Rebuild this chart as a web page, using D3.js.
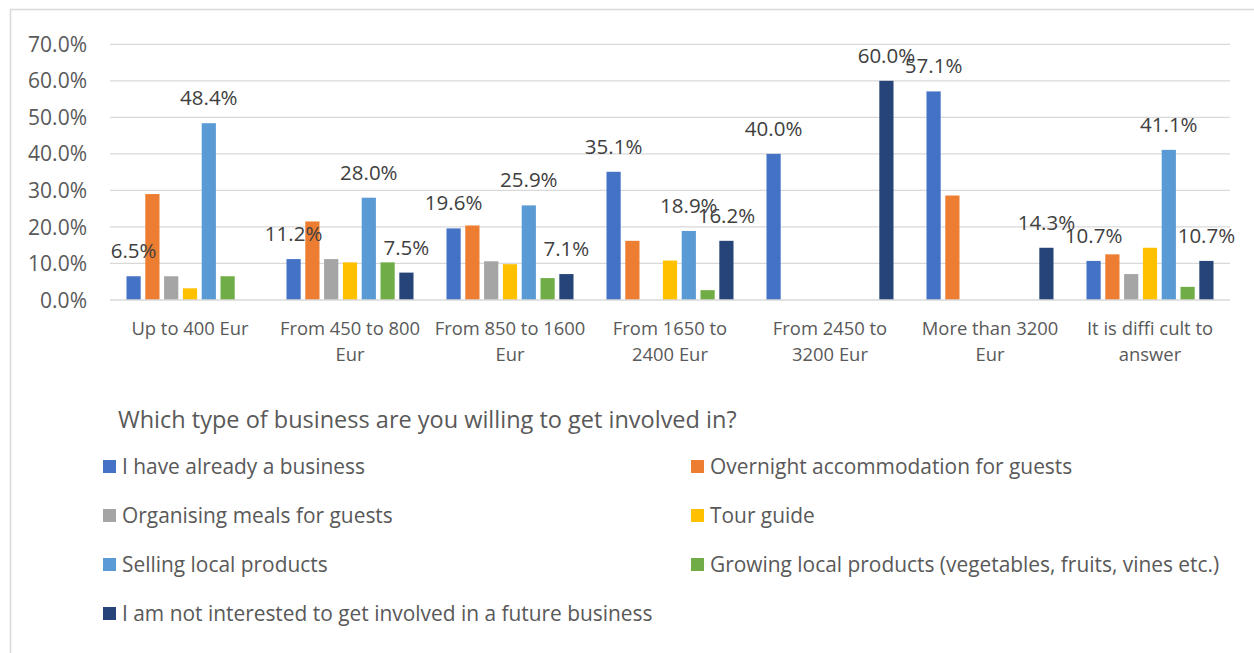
<!DOCTYPE html>
<html>
<head>
<meta charset="utf-8">
<script src="https://cdn.jsdelivr.net/npm/d3@7"></script>
<style>
  html, body { margin: 0; padding: 0; background: #fff; }
  svg { display: block; font-family: "Open Sans", Lato, sans-serif; }
</style>
</head>
<body>
<svg id="chart" width="1254" height="653"></svg>
<script>
// Income groups (line breaks follow the axis labels)
const categories = [
  "Up to 400 Eur",
  "From 450 to 800\nEur",
  "From 850 to 1600\nEur",
  "From 1650 to\n2400 Eur",
  "From 2450 to\n3200 Eur",
  "More than 3200\nEur",
  "It is diffi cult to\nanswer"
];

const seriesNames = [
  "I have already a business",
  "Overnight accommodation for guests",
  "Organising meals for guests",
  "Tour guide",
  "Selling local products",
  "Growing local products (vegetables, fruits, vines etc.)",
  "I am not interested to get involved in a future business"
];

const seriesColors = ["#4472C4", "#ED7D31", "#A5A5A5", "#FFC000", "#5B9BD5", "#70AD47", "#264478"];

// Shares in percent, one array per business type, ordered like categories
const alreadyBusiness = [6.5, 11.2, 19.6, 35.1, 40.0, 57.1, 10.7];
const overnight       = [29.0, 21.5, 20.4, 16.2, 0, 28.6, 12.5];
const meals           = [6.5, 11.2, 10.6, 0, 0, 0, 7.1];
const tourGuide       = [3.2, 10.3, 9.8, 10.8, 0, 0, 14.3];
const sellingLocal    = [48.4, 28.0, 25.9, 18.9, 0, 0, 41.1];
const growingLocal    = [6.5, 10.3, 6.0, 2.7, 0, 0, 3.6];
const notInterested   = [0, 7.5, 7.1, 16.2, 60.0, 14.3, 10.7];

const seriesValues = [alreadyBusiness, overnight, meals, tourGuide, sellingLocal, growingLocal, notInterested];

// Series that carry value labels
const labelledSeries = [0, 4, 6];

const yTicks = [0, 10, 20, 30, 40, 50, 60, 70];

const legendTitle = "Which type of business are you willing to get involved in?";

const svg = d3.select("#chart");

// outer chart frame
svg.append("path")
  .attr("d", "M10.5,653 V9.5 H1254")
  .attr("fill", "none")
  .attr("stroke", "#d9d9d9")
  .attr("stroke-width", 1.5);

const plot = { left: 110, right: 1230, top: 44.3, bottom: 300 };

const y = d3.scaleLinear().domain([0, 70]).range([plot.bottom, plot.top]);

const x0 = d3.scaleBand().domain(d3.range(categories.length)).range([plot.left, plot.right]).padding(0);
const x1 = d3.scaleBand().domain(d3.range(seriesNames.length)).range([0, x0.bandwidth()])
  .paddingInner(0.245).paddingOuter(0.877);

// horizontal gridlines
svg.append("g").selectAll("line")
  .data(yTicks.filter(t => t > 0))
  .join("line")
  .attr("x1", plot.left).attr("x2", plot.right)
  .attr("y1", d => y(d)).attr("y2", d => y(d))
  .attr("stroke", "#d9d9d9").attr("stroke-width", 1.3);

// y tick labels
svg.append("g").selectAll("text")
  .data(yTicks)
  .join("text")
  .attr("x", 87)
  .attr("y", d => y(d))
  .attr("dy", "0.36em")
  .attr("text-anchor", "end")
  .attr("font-size", 21)
  .attr("fill", "#595959")
  .text(d => d.toFixed(1) + "%");

// bars
const groups = svg.append("g").selectAll("g")
  .data(categories.map((c, i) => i))
  .join("g")
  .attr("transform", i => `translate(${x0(i)},0)`);

groups.selectAll("rect")
  .data(i => seriesValues.map((vals, s) => ({ s, v: vals[i] })))
  .join("rect")
  .attr("x", d => x1(d.s))
  .attr("width", x1.bandwidth())
  .attr("y", d => y(d.v))
  .attr("height", d => y(0) - y(d.v))
  .attr("fill", d => seriesColors[d.s]);

// category axis line
svg.append("line")
  .attr("x1", plot.left).attr("x2", plot.right)
  .attr("y1", y(0)).attr("y2", y(0))
  .attr("stroke", "#d9d9d9").attr("stroke-width", 1.5);

// value labels
groups.selectAll("text.value")
  .data(i => labelledSeries.map(s => ({ s, v: seriesValues[s][i] })).filter(d => d.v > 0))
  .join("text")
  .attr("class", "value")
  .attr("x", d => x1(d.s) + x1.bandwidth() / 2)
  .attr("y", d => y(d.v) - 18)
  .attr("text-anchor", "middle")
  .attr("font-size", 20.5)
  .attr("fill", "#404040")
  .text(d => d.v.toFixed(1) + "%");

// category labels
const catLabels = svg.append("g").selectAll("text")
  .data(categories)
  .join("text")
  .attr("x", (d, i) => x0(i) + x0.bandwidth() / 2)
  .attr("y", 335)
  .attr("text-anchor", "middle")
  .attr("font-size", 18.4)
  .attr("fill", "#595959");

catLabels.selectAll("tspan")
  .data(d => d.split("\n"))
  .join("tspan")
  .attr("x", function () { return this.parentNode.getAttribute("x"); })
  .attr("dy", (d, j) => j === 0 ? 0 : 26)
  .text(d => d);

// legend title
svg.append("text")
  .attr("x", 118)
  .attr("y", 428)
  .attr("font-size", 23.5)
  .attr("fill", "#595959")
  .text(legendTitle);

// legend entries in two columns
const legendCols = [103, 691];
const legend = svg.append("g").selectAll("g")
  .data(seriesNames.map((n, i) => i))
  .join("g")
  .attr("transform", i => `translate(${legendCols[i % 2]},${466.5 + Math.floor(i / 2) * 49})`);

legend.append("rect")
  .attr("x", 0).attr("y", -6.5)
  .attr("width", 13).attr("height", 13)
  .attr("fill", i => seriesColors[i]);

legend.append("text")
  .attr("x", 19)
  .attr("dy", "0.36em")
  .attr("font-size", 20.9)
  .attr("fill", "#595959")
  .text(i => seriesNames[i]);
</script>
</body>
</html>
